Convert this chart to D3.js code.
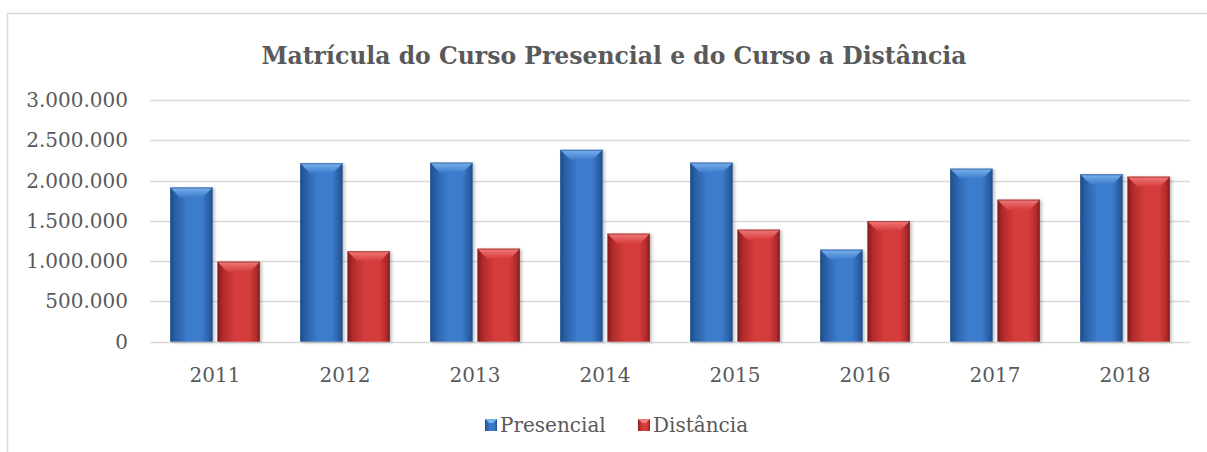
<!DOCTYPE html>
<html>
<head>
<meta charset="utf-8">
<script src="https://cdn.jsdelivr.net/npm/d3@7"></script>
<style>
  body { margin: 0; background: #fff; }
  text { font-family: "DejaVu Serif", "Liberation Serif", serif; fill: #595959; }
</style>
</head>
<body>
<div id="chart"></div>
<script>
var width = 1207,
	height = 452;

// Data
var years = ["2011", "2012", "2013", "2014", "2015", "2016", "2017", "2018"];
var series = ["Presencial", "Distância"];
var presencial = [1915000, 2216000, 2224000, 2383000, 2224000, 1143000, 2149000, 2079000];
var distancia = [994000, 1123000, 1155000, 1342000, 1391000, 1499000, 1764000, 2050000];
var yTicks = [0, 500000, 1000000, 1500000, 2000000, 2500000, 3000000];

var rows = years.map(function(y, i){
	return {year: y, values: [presencial[i], distancia[i]]};
});

var colors = {
	"Presencial": {main: "#3b7bcc", light: "#7ab2ee", dark: "#1d4a86", edge: "#2a5fa5"},
	"Distância": {main: "#d53c3c", light: "#f27a7a", dark: "#7e1c1c", edge: "#b02a2a"}
};

var svg = d3.select("#chart")
	.append("svg")
	.attr("width", width)
	.attr("height", height);

var defs = svg.append("defs");
series.forEach(function(s, i){
	var c = colors[s];
	var g = defs.append("linearGradient")
		.attr("id", "grad" + i)
		.attr("x1", "0%").attr("x2", "100%").attr("y1", "0%").attr("y2", "0%");
	g.append("stop").attr("offset", "0%").attr("stop-color", c.dark);
	g.append("stop").attr("offset", "12%").attr("stop-color", c.edge);
	g.append("stop").attr("offset", "40%").attr("stop-color", c.main);
	g.append("stop").attr("offset", "75%").attr("stop-color", c.main);
	g.append("stop").attr("offset", "92%").attr("stop-color", c.edge);
	g.append("stop").attr("offset", "100%").attr("stop-color", c.dark);
	var t = defs.append("linearGradient")
		.attr("id", "top" + i)
		.attr("x1", "0%").attr("x2", "0%").attr("y1", "0%").attr("y2", "100%");
	t.append("stop").attr("offset", "0%").attr("stop-color", c.light);
	t.append("stop").attr("offset", "100%").attr("stop-color", c.main);
});
var shadow = defs.append("filter").attr("id", "shadow")
	.attr("x", "-20%").attr("y", "-10%").attr("width", "150%").attr("height", "130%");
shadow.append("feDropShadow")
	.attr("dx", 2).attr("dy", 1).attr("stdDeviation", 1.5)
	.attr("flood-color", "#000").attr("flood-opacity", 0.25);

// Frame
svg.append("rect")
	.attr("x", 7.5).attr("y", 13.5)
	.attr("width", 1230).attr("height", 470)
	.attr("fill", "none")
	.attr("stroke", "#d9d9d9")
	.attr("stroke-width", 1.5);

// Title
svg.append("text")
	.attr("x", 614)
	.attr("y", 64)
	.attr("text-anchor", "middle")
	.attr("font-size", "25px")
	.attr("font-weight", "bold")
	.attr("textLength", 705)
	.attr("lengthAdjust", "spacingAndGlyphs")
	.text("Matrícula do Curso Presencial e do Curso a Distância");

// Scales
var x0 = d3.scaleBand()
	.domain(years)
	.range([150, 1190])
	.paddingInner(0.31)
	.paddingOuter(0.155);
var x1 = d3.scaleBand()
	.domain(series)
	.range([0, x0.bandwidth()])
	.padding(0.1)
	.paddingOuter(0);
var y = d3.scaleLinear()
	.domain([0, 3000000])
	.range([341.7, 100.2]);

var fmt = function(v){ return v === 0 ? "0" : d3.format(",")(v).replace(/,/g, "."); };

// Grid
svg.append("g")
	.attr("class", "grid")
	.selectAll("line")
	.data(yTicks)
	.enter()
	.append("line")
	.attr("x1", 150).attr("x2", 1190)
	.attr("y1", function(d){ return Math.round(y(d)) + 0.5; })
	.attr("y2", function(d){ return Math.round(y(d)) + 0.5; })
	.attr("stroke", "#d9d9d9")
	.attr("stroke-width", 1.5);

// Y labels
svg.append("g")
	.selectAll("text")
	.data(yTicks)
	.enter()
	.append("text")
	.attr("x", 128)
	.attr("y", function(d){ return y(d) + 7; })
	.attr("text-anchor", "end")
	.attr("font-size", "20px")
	.text(fmt);

// Bars
var groups = svg.append("g")
	.selectAll("g")
	.data(rows)
	.enter()
	.append("g")
	.attr("transform", function(d){ return "translate(" + x0(d.year) + ",0)"; });

var bars = groups.selectAll("g")
	.data(function(d){ return d.values.map(function(v, i){ return {s: series[i], i: i, v: v}; }); })
	.enter()
	.append("g")
	.attr("filter", "url(#shadow)");

bars.append("rect")
	.attr("x", function(d){ return x1(d.s); })
	.attr("y", function(d){ return y(d.v); })
	.attr("width", x1.bandwidth())
	.attr("height", function(d){ return y(0) - y(d.v); })
	.attr("fill", function(d){ return "url(#grad" + d.i + ")"; });

// top bevel
bars.append("path")
	.attr("d", function(d){
		var bx = x1(d.s), bw = x1.bandwidth(), by = y(d.v), b = 10;
		return "M" + bx + "," + by + "L" + (bx + bw) + "," + by +
			"L" + (bx + bw - b) + "," + (by + b) + "L" + (bx + b) + "," + (by + b) + "Z";
	})
	.attr("fill", function(d){ return "url(#top" + d.i + ")"; });
bars.append("line")
	.attr("x1", function(d){ return x1(d.s); })
	.attr("x2", function(d){ return x1(d.s) + x1.bandwidth(); })
	.attr("y1", function(d){ return y(d.v) + 0.5; })
	.attr("y2", function(d){ return y(d.v) + 0.5; })
	.attr("stroke", function(d){ return colors[d.s].dark; })
	.attr("stroke-opacity", 0.6);

// X labels
svg.append("g")
	.selectAll("text")
	.data(years)
	.enter()
	.append("text")
	.attr("x", function(d){ return x0(d) + x0.bandwidth() / 2; })
	.attr("y", 382)
	.attr("text-anchor", "middle")
	.attr("font-size", "20px")
	.text(function(d){ return d; });

// Legend
var legendX = [485, 638];
var legend = svg.append("g")
	.selectAll("g")
	.data(series)
	.enter()
	.append("g")
	.attr("transform", function(d, i){ return "translate(" + legendX[i] + ",419)"; });
legend.append("rect")
	.attr("width", 12).attr("height", 12)
	.attr("fill", function(d, i){ return "url(#grad" + i + ")"; });
legend.append("path")
	.attr("d", "M0,0L12,0L8,4L4,4Z")
	.attr("fill", function(d, i){ return colors[d].light; });
legend.append("text")
	.attr("x", 15)
	.attr("y", 13)
	.attr("font-size", "20px")
	.text(function(d){ return d; });
</script>
</body>
</html>
